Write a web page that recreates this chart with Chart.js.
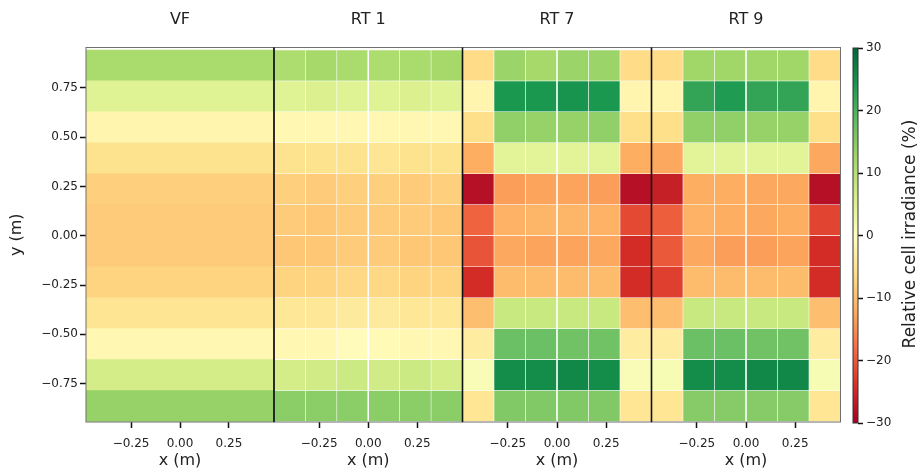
<!DOCTYPE html>
<html>
<head>
<meta charset="utf-8">
<script src="https://cdn.jsdelivr.net/npm/chart.js@4.4.1/dist/chart.umd.min.js"></script>
<style>
    body { margin: 0; background: #fff; }
    #wrap { position: relative; width: 921px; height: 472px; overflow: hidden; }
    #wrap canvas { position: absolute; top: 0; }
</style>
</head>
<body>
<div id="wrap">
    <canvas id="c0" width="280" height="472" style="left:0px"></canvas>
    <canvas id="c1" width="200" height="472" style="left:268px"></canvas>
    <canvas id="c2" width="202" height="472" style="left:456px"></canvas>
    <canvas id="c3" width="202" height="472" style="left:645px"></canvas>
    <canvas id="c4" width="76" height="472" style="left:845px"></canvas>
</div>
<script>
// cell grid (m)
const yCenters = [0.864, 0.707, 0.550, 0.393, 0.236, 0.079, -0.079, -0.236, -0.393, -0.550, -0.707, -0.864];
const xEdges = [-0.48, -0.32, -0.16, 0, 0.16, 0.32, 0.48];
const xTicks = [-0.25, 0, 0.25];
const yTicks = [-0.75, -0.5, -0.25, 0, 0.25, 0.5, 0.75];
const cbTicks = [-30, -20, -10, 0, 10, 20, 30];
const titles = ['VF', 'RT 1', 'RT 7', 'RT 9'];

// relative cell irradiance (%), rows top -> bottom
const vfValues = [11.5, 5, -2, -5.5, -8, -8.5, -8.5, -7.5, -5, -1.5, 6.5, 13.5];

const rt1Values = [
    [11, 12, 11.5, 11, 11.5, 12],
    [5, 5.5, 5, 5, 5.5, 5],
    [-1.5, -1.5, -1.5, -1.5, -1.5, -1.5],
    [-5.5, -5.5, -5.5, -5, -5.5, -5.5],
    [-8, -8.5, -8, -8, -8.5, -8],
    [-8.5, -9, -8.5, -8.5, -8.5, -9],
    [-9, -9, -8.5, -8.5, -9, -9],
    [-7.5, -7.5, -7, -7, -7.5, -7.5],
    [-4.5, -4.5, -4, -4, -4.5, -4.5],
    [-1.5, -1.5, -0.5, -1, -1.5, -1.5],
    [6.5, 7, 7.5, 7, 7.5, 6.5],
    [14.5, 14.5, 14.5, 14.5, 14.5, 14.5],
];

const rt7Values = [
    [-6.5, 13, 12, 13, 13, -6.5],
    [-2, 24, 24, 24.5, 24, -2],
    [-6, 14, 13.5, 13.5, 14, -6],
    [-12, 4.5, 4.5, 4.5, 4.5, -12],
    [-28, -13.5, -13, -13, -13.5, -28],
    [-19, -11.5, -11, -11, -11.5, -21.5],
    [-20.5, -12.5, -13, -13, -12.5, -24.5],
    [-24.5, -10.5, -10.5, -10.5, -10.5, -24.5],
    [-10, 8, 8, 8, 8, -10],
    [-3.5, 17.5, 17.5, 17, 17, -3.5],
    [1, 25.5, 25.5, 26, 25.5, 1],
    [-4.8, 15.5, 15.5, 15.5, 15.5, -4.8],
];

const rt9Values = [
    [-6.5, 12.5, 12.5, 12.5, 12.5, -6.5],
    [-2, 22, 23.5, 22, 22, -2],
    [-6, 14, 14, 13.5, 13.5, -6],
    [-12.5, 4.5, 4.5, 4.5, 4.5, -12.5],
    [-26, -12, -12, -12.5, -12.5, -28],
    [-19.5, -11.5, -12, -12.5, -12, -22],
    [-20, -12.5, -13.5, -13.5, -13, -24.5],
    [-22.5, -10.5, -10.5, -10.5, -10.5, -24.5],
    [-10, 8, 8, 8, 8, -10],
    [-3.5, 17.5, 17.5, 17, 17, -3.5],
    [1.2, 25.5, 25.5, 26, 26, 1.2],
    [-4.8, 15, 15, 15, 15, -4.8],
];

// matplotlib RdYlGn
const rdylgn = [
    [165, 0, 38], [215, 48, 39], [244, 109, 67], [253, 174, 97], [254, 224, 139],
    [255, 255, 191], [217, 239, 139], [166, 217, 106], [102, 189, 99], [26, 152, 80], [0, 104, 55],
];
function cmap(v) {
    let t = Math.min(1, Math.max(0, (v + 30) / 60)) * 10;
    const i = Math.min(9, Math.floor(t));
    const f = t - i;
    const a = rdylgn[i], b = rdylgn[i + 1];
    const c = a.map((x, k) => Math.round(x + (b[k] - x) * f));
    return `rgb(${c[0]},${c[1]},${c[2]})`;
}

const fmt = (v) => (v < 0 ? '\u2212' : '') + Math.abs(v).toFixed(2);
const TXT = '#222';
const FONT = 'DejaVu Sans';

const framePlugin = {
    id: 'frame',
    afterDraw(chart, args, opts) {
        const a = chart.chartArea;
        const ctx = chart.ctx;
        ctx.save();
        ctx.strokeStyle = opts.color || '#777';
        ctx.lineWidth = 1;
        ctx.strokeRect(a.left, a.top, a.right - a.left, a.bottom - a.top);
        if (opts.sep) {
            ctx.strokeStyle = '#111';
            ctx.lineWidth = 1.6;
            ctx.beginPath();
            ctx.moveTo(a.left, a.top);
            ctx.lineTo(a.left, a.bottom);
            ctx.stroke();
        }
        ctx.restore();
    },
};

function cells(vals) {
    const out = [];
    yCenters.forEach((y, r) => {
        if (Array.isArray(vals[r])) {
            vals[r].forEach((v, c) => out.push({ y: y, x: [xEdges[c], xEdges[c + 1]], v: v }));
        } else {
            out.push({ y: y, x: [xEdges[0], xEdges[xEdges.length - 1]], v: vals[r] });
        }
    });
    return out;
}

const panels = [
    { id: 'c0', vals: vfValues, pad: { left: 0, right: 6 }, border: 0, line: 'rgba(255,255,255,0)' },
    { id: 'c1', vals: rt1Values, pad: { left: 6, right: 5.5 }, border: 0.6, line: 'rgba(255,255,255,0.45)' },
    { id: 'c2', vals: rt7Values, pad: { left: 6.5, right: 6.5 }, border: 0.6, line: 'rgba(255,255,255,0.4)' },
    { id: 'c3', vals: rt9Values, pad: { left: 6.5, right: 6.5 }, border: 0.6, line: 'rgba(255,255,255,0.15)' },
];

const tickGrid = {
    display: true,
    offset: false,
    drawOnChartArea: false,
    drawTicks: true,
    tickLength: 6,
    tickWidth: 1.5,
    tickColor: '#111',
};

panels.forEach((p, i) => {
    new Chart(document.getElementById(p.id), {
        type: 'bar',
        data: {
            datasets: [
                {
                    data: cells(p.vals),
                    backgroundColor: (ctx) => (ctx.raw ? cmap(ctx.raw.v) : '#fff'),
                    borderColor: p.line,
                    borderWidth: p.border,
                    borderSkipped: false,
                    barPercentage: 1,
                    categoryPercentage: 1,
                },
            ],
        },
        options: {
            indexAxis: 'y',
            responsive: false,
            animation: false,
            layout: { padding: { left: p.pad.left, right: p.pad.right, top: 0, bottom: 0 } },
            plugins: {
                legend: { display: false },
                tooltip: { enabled: false },
                title: {
                    display: true,
                    text: titles[i],
                    fullSize: false,
                    color: TXT,
                    font: { family: FONT, size: 16, weight: 'normal' },
                    padding: { top: 10.5, bottom: 17.8 },
                },
                frame: { color: '#6f6f6f', sep: i > 0 },
            },
            scales: {
                x: {
                    type: 'linear',
                    offset: false,
                    min: xEdges[0],
                    max: xEdges[xEdges.length - 1],
                    afterBuildTicks: (s) => { s.ticks = xTicks.map((v) => ({ value: v })); },
                    afterFit: (s) => { s.height = 50; },
                    ticks: { callback: (v) => fmt(v), color: TXT, font: { family: FONT, size: 12 }, padding: 9, maxRotation: 0 },
                    grid: tickGrid,
                    border: { display: false },
                    title: {
                        display: true,
                        text: 'x (m)',
                        color: TXT,
                        font: { family: FONT, size: 16 },
                        padding: { top: 0, bottom: 2 },
                    },
                },
                y: {
                    type: 'linear',
                    offset: false,
                    display: i === 0,
                    min: -0.945,
                    max: 0.955,
                    afterBuildTicks: (s) => { s.ticks = yTicks.map((v) => ({ value: v })); },
                    afterFit: (s) => { s.width = i === 0 ? 86 : 0; },
                    ticks: { callback: (v) => fmt(v), color: TXT, font: { family: FONT, size: 12 }, padding: 2 },
                    grid: tickGrid,
                    border: { display: false },
                    title: {
                        display: true,
                        text: 'y (m)',
                        color: TXT,
                        font: { family: FONT, size: 16 },
                        padding: { top: 7, bottom: 0 },
                    },
                },
            },
        },
        plugins: [framePlugin],
    });
});

// colour bar
const cbLabel = {
    id: 'cbLabel',
    afterDraw(chart) {
        const ctx = chart.ctx;
        ctx.save();
        ctx.translate(911 - 845, 234);
        ctx.rotate(-Math.PI / 2);
        ctx.fillStyle = TXT;
        ctx.font = '17px "DejaVu Sans"';
        ctx.textAlign = 'center';
        ctx.textBaseline = 'middle';
        ctx.fillText('Relative cell irradiance (%)', 0, 0);
        ctx.restore();
    },
};

new Chart(document.getElementById('c4'), {
    type: 'bar',
    data: {
        labels: [''],
        datasets: [
            {
                data: [[cbTicks[0], cbTicks[cbTicks.length - 1]]],
                backgroundColor: (ctx) => {
                    const a = ctx.chart.chartArea;
                    if (!a) return '#fff';
                    const g = ctx.chart.ctx.createLinearGradient(0, a.bottom, 0, a.top);
                    rdylgn.forEach((c, k) => g.addColorStop(k / 10, `rgb(${c[0]},${c[1]},${c[2]})`));
                    return g;
                },
                borderWidth: 0,
                barPercentage: 1,
                categoryPercentage: 1,
            },
        ],
    },
    options: {
        responsive: false,
        animation: false,
        layout: { padding: { left: 8, right: 0, top: 48, bottom: 49 } },
        plugins: {
            legend: { display: false },
            tooltip: { enabled: false },
            frame: { color: '#333', sep: false },
        },
        scales: {
            x: { display: false },
            y: {
                position: 'right',
                min: cbTicks[0],
                max: cbTicks[cbTicks.length - 1],
                afterBuildTicks: (s) => { s.ticks = cbTicks.map((v) => ({ value: v })); },
                afterFit: (s) => { s.width = 63; },
                ticks: {
                    callback: (v) => (v < 0 ? '\u2212' : '') + Math.abs(v),
                    color: TXT,
                    font: { family: FONT, size: 12 },
                    padding: 3,
                },
                grid: { display: true, drawOnChartArea: false, drawTicks: true, tickLength: 5, tickWidth: 1.5, tickColor: '#111' },
                border: { display: false },
            },
        },
    },
    plugins: [framePlugin, cbLabel],
});
</script>
</body>
</html>
